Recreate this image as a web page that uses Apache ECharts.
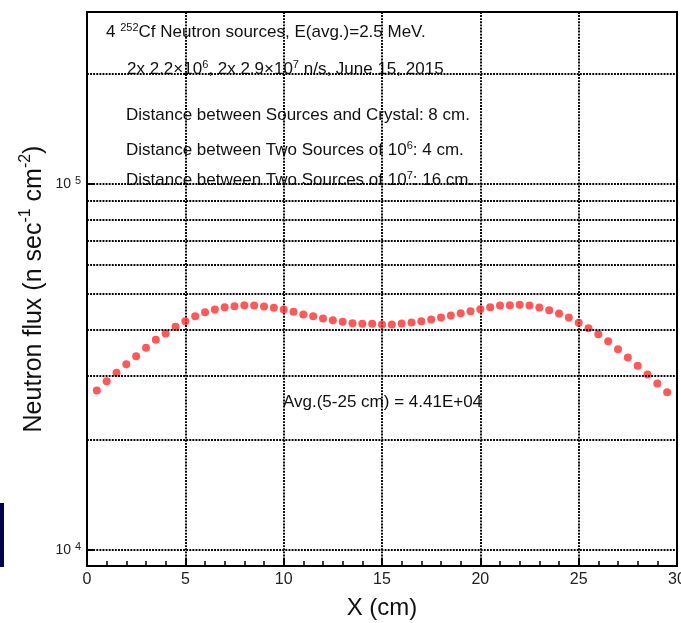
<!DOCTYPE html>
<html>
<head>
<meta charset="utf-8">
<script src="https://cdn.jsdelivr.net/npm/echarts@6/dist/echarts.min.js"></script>
<style>
html,body{margin:0;padding:0;background:#fff;}
#chart{width:681px;height:623px;}
</style>
</head>
<body>
<div id="chart"></div>
<script>
// X positions (cm)
const xPositions = [0.5,1,1.5,2,2.5,3,3.5,4,4.5,5,5.5,6,6.5,7,7.5,8,8.5,9,9.5,10,
  10.5,11,11.5,12,12.5,13,13.5,14,14.5,15,15.5,16,16.5,17,17.5,18,18.5,19,19.5,20,
  20.5,21,21.5,22,22.5,23,23.5,24,24.5,25,25.5,26,26.5,27,27.5,28,28.5,29,29.5];
// Neutron flux (n sec^-1 cm^-2)
const fluxValues = [27280,28930,30500,32190,33850,35680,37520,39040,40720,42180,
  43530,44640,45400,46060,46350,46650,46600,46260,45880,45400,
  44750,44000,43530,42910,42450,42020,41650,41500,41500,41310,
  41310,41580,41840,42180,42640,43180,43730,44360,44920,45480,
  46060,46560,46650,46770,46560,45970,45200,44280,43180,41760,
  40370,38880,37200,35380,33570,31860,30160,28500,26990];
// Minor log gridlines
const minorGridValues = [20000,30000,40000,50000,60000,70000,80000,90000,200000];
const xTicks = [0,5,10,15,20,25,30];

const FONT = 'Liberation Sans, Arial, sans-serif';
const TXT = '#111';
const dotted = {color:'#000', width:1.9, type:[1.9,1.2]};
const supRich = {sup:{fontSize:11,fontFamily:FONT,fill:TXT,verticalAlign:'top',lineHeight:20}};

const chart = echarts.init(document.getElementById('chart'));
const option = {
  animation:false,
  backgroundColor:'#fff',
  grid:{left:87,right:4,top:12,bottom:57,show:true,borderColor:'#000',borderWidth:2,
    backgroundColor:'transparent',containLabel:false,outerBoundsMode:'none'},
  xAxis:{
    type:'value', min:xTicks[0], max:xTicks[xTicks.length-1], interval:5,
    name:'X (cm)', nameLocation:'middle', nameGap:30, nameMoveOverlap:false,
    nameTextStyle:{fontFamily:FONT,fontSize:24,color:TXT},
    axisLine:{lineStyle:{color:'#000',width:2}},
    axisTick:{inside:true,length:8,lineStyle:{color:'#000',width:2}},
    minorTick:{show:true,splitNumber:5,length:5,lineStyle:{color:'#000',width:1.5}},
    axisLabel:{fontFamily:FONT,fontSize:16,color:'#222',margin:6},
    splitLine:{show:true,lineStyle:dotted}
  },
  yAxis:{
    type:'log', logBase:10, min:9044, max:295100,
    name:'Neutron flux (n sec{sup|-1} cm{sup|-2})', nameLocation:'middle', nameGap:37, nameMoveOverlap:false,
    nameTextStyle:{fontFamily:FONT,fontSize:25,color:TXT,lineHeight:32,
      rich:{sup:{fontSize:16,fontFamily:FONT,color:TXT,verticalAlign:'top',lineHeight:32}}},
    axisLine:{lineStyle:{color:'#000',width:2}},
    axisTick:{inside:true,length:8,lineStyle:{color:'#000',width:2}},
    axisLabel:{fontFamily:FONT,fontSize:14,color:'#222',margin:6,
      formatter:function(v){
        const l = Math.log10(v);
        if (Math.abs(l-Math.round(l))<1e-6) return '10 {sup|'+Math.round(l)+'}';
        return '';
      },
      rich:{sup:{fontSize:11,fontFamily:FONT,color:'#222',verticalAlign:'top',lineHeight:18}},
      lineHeight:18
    },
    splitLine:{show:true,lineStyle:dotted}
  },
  series:[{
    type:'scatter',
    data:xPositions.map((x,i)=>[x,fluxValues[i]]),
    symbol:'circle', symbolSize:8,
    itemStyle:{color:'#ff2e2e'},
    markLine:{
      silent:true, symbol:'none', label:{show:false},
      lineStyle:dotted,
      data:minorGridValues.map(v=>({yAxis:v}))
    }
  }],
  graphic:[
    {type:'rect',left:0,top:503,shape:{width:4,height:64},style:{fill:'#00004d'}},
    {type:'text',left:106,top:22,style:{text:'4 {sup|252}Cf Neutron sources, E(avg.)=2.5 MeV.',fontFamily:FONT,fontSize:17,fill:TXT,lineHeight:20,rich:supRich}},
    {type:'text',left:127,top:59,style:{text:'2x 2.2×10{sup|6}, 2x 2.9×10{sup|7} n/s, June 15, 2015',fontFamily:FONT,fontSize:17,fill:TXT,lineHeight:20,rich:supRich}},
    {type:'text',left:126,top:105,style:{text:'Distance between Sources and Crystal: 8 cm.',fontFamily:FONT,fontSize:17,fill:TXT,lineHeight:20}},
    {type:'text',left:126,top:140,style:{text:'Distance between Two Sources of 10{sup|6}: 4 cm.',fontFamily:FONT,fontSize:17,fill:TXT,lineHeight:20,rich:supRich}},
    {type:'text',left:126,top:170,style:{text:'Distance between Two Sources of 10{sup|7}: 16 cm.',fontFamily:FONT,fontSize:17,fill:TXT,lineHeight:20,rich:supRich}},
    {type:'text',left:283,top:392,style:{text:'Avg.(5-25 cm) = 4.41E+04',fontFamily:FONT,fontSize:17,fill:TXT,lineHeight:20}}
  ]
};
chart.setOption(option);
</script>
</body>
</html>
